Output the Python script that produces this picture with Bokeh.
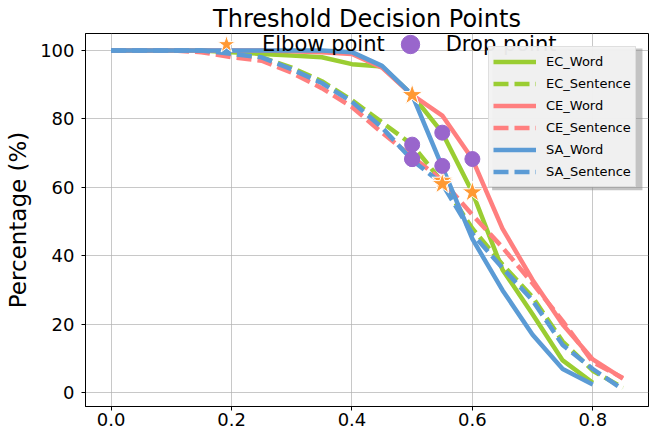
from bokeh.plotting import figure
from bokeh.models import Legend, LegendItem, BoxAnnotation, FixedTicker, Range1d
from bokeh.embed import file_html
from bokeh.resources import INLINE

# ---- data ----
thresholds = [0.0, 0.05, 0.1, 0.15, 0.2, 0.25, 0.3, 0.35, 0.4, 0.45,
              0.5, 0.55, 0.6, 0.65, 0.7, 0.75, 0.8, 0.85]

ec_word = [100, 100, 100, 100, 99.5, 99, 98.5, 98, 96, 95.3, 87, 76, 58.6, 36, 23, 9.5, 3]
ec_sentence = [100, 100, 100, 100, 99, 98, 95, 91, 85.5, 79, 72.5, 61.5, 48, 37.5, 28, 15, 6.5, 1.5]
ce_word = [100, 100, 100, 100, 100, 100, 99.8, 99.5, 99, 95, 87, 81, 68.3, 48, 33, 20, 9.8, 4.2]
ce_sentence = [100, 100, 100, 99.5, 98, 97, 93.5, 89, 83.5, 76, 69, 62, 52, 42.5, 32, 21, 9, 4.4]
sa_word = [100, 100, 100, 100, 100, 100, 100, 100, 99.5, 95.5, 87, 66, 45, 30, 17, 7, 2.5]
sa_sentence = [100, 100, 100, 100, 99, 98, 94.5, 90.5, 85, 77.5, 68, 61, 46.5, 36.5, 27, 14, 7, 1.0]

elbow_x = [0.6, 0.5, 0.5, 0.55, 0.55, 0.55]
elbow_y = [58.6, 87, 87, 61.5, 62, 61]
drop_x = [0.55, 0.6, 0.55, 0.5, 0.5, 0.5]
drop_y = [76, 68.3, 66.3, 72.5, 68.3, 68.3]

x_ticks = [0.0, 0.2, 0.4, 0.6, 0.8]
y_ticks = [0, 20, 40, 60, 80, 100]

GREEN = "#9acd32"
RED = "#ff7f7f"
BLUE = "#5b9bd5"
FONT = "DejaVu Sans"

p = figure(width=655, height=431,
           x_range=Range1d(-0.0425, 0.8925), y_range=Range1d(-3.95, 104.95),
           output_backend="svg", toolbar_location=None,
           min_border_left=85, min_border_right=7, min_border_top=33, min_border_bottom=25)

p.title.text = "Threshold Decision Points"
p.title.align = "center"
p.title.text_font_size = "24px"
p.title.text_font_style = "normal"
p.title.text_font = FONT
p.title.text_color = "black"
p.title.standoff = 2

p.outline_line_color = "black"
p.outline_line_width = 1
p.background_fill_color = "white"
for g in (p.xgrid, p.ygrid):
    g.grid_line_color = "#b0b0b0"
    g.grid_line_alpha = 0.7
    g.grid_line_width = 1

p.xaxis.ticker = FixedTicker(ticks=x_ticks)
p.yaxis.ticker = FixedTicker(ticks=y_ticks)
p.xaxis.major_label_overrides = {t: f"{t:.1f}" for t in x_ticks}
for ax in (p.xaxis, p.yaxis):
    ax.axis_line_color = "black"
    ax.major_tick_line_color = "black"
    ax.major_tick_out = 4
    ax.major_tick_in = 0
    ax.minor_tick_line_color = None
    ax.major_label_text_font_size = "18px"
    ax.major_label_text_font = FONT
    ax.major_label_text_color = "black"
p.xaxis.major_label_standoff = 2
p.yaxis.major_label_standoff = 7
p.yaxis.axis_label = "Percentage (%)"
p.yaxis.axis_label_text_font_size = "23px"
p.yaxis.axis_label_text_font_style = "normal"
p.yaxis.axis_label_text_font = FONT
p.yaxis.axis_label_text_color = "black"
p.yaxis.axis_label_standoff = 6

LW = 4.5
DASH = "15 6"
r_ecw = p.line(thresholds[:len(ec_word)], ec_word, line_color=GREEN, line_width=LW)
r_ecs = p.line(thresholds[:len(ec_sentence)], ec_sentence, line_color=GREEN, line_width=LW, line_dash=DASH)
r_cew = p.line(thresholds[:len(ce_word)], ce_word, line_color=RED, line_width=LW)
r_ces = p.line(thresholds[:len(ce_sentence)], ce_sentence, line_color=RED, line_width=LW, line_dash=DASH)
r_saw = p.line(thresholds[:len(sa_word)], sa_word, line_color=BLUE, line_width=LW)
r_sas = p.line(thresholds[:len(sa_sentence)], sa_sentence, line_color=BLUE, line_width=LW, line_dash=DASH)

r_elbow = p.scatter(elbow_x, elbow_y, marker="star", size=22, fill_color="#ff9933",
                    line_color="white", line_width=1)
r_drop = p.scatter(drop_x, drop_y, marker="circle", size=15, fill_color="#9966cc",
                   line_color="#9966cc", line_width=1)

# top legend (markers)
leg1 = Legend(items=[LegendItem(label="Elbow point", renderers=[r_elbow]),
                     LegendItem(label="Drop point", renderers=[r_drop])],
              orientation="horizontal", location=(116, 339),
              glyph_width=50, glyph_height=46, label_height=46, label_standoff=11, spacing=-5,
              padding=0, margin=0, border_line_alpha=0, background_fill_alpha=0,
              label_text_font_size="21px", label_text_font=FONT, label_text_color="black")
p.add_layout(leg1)

# shadow for line legend
shadow = BoxAnnotation(left=0.6328, right=0.8824, top=100.6, bottom=59.2,
                       fill_color="#888888", fill_alpha=0.5, line_alpha=0)
p.add_layout(shadow)

leg2 = Legend(items=[LegendItem(label="EC_Word", renderers=[r_ecw]),
                     LegendItem(label="EC_Sentence", renderers=[r_ecs]),
                     LegendItem(label="CE_Word", renderers=[r_cew]),
                     LegendItem(label="CE_Sentence", renderers=[r_ces]),
                     LegendItem(label="SA_Word", renderers=[r_saw]),
                     LegendItem(label="SA_Sentence", renderers=[r_sas])],
              location=(403, 219), glyph_width=43, glyph_height=21, label_height=21,
              label_standoff=10, spacing=1, padding=4, margin=0,
              border_line_color="#cccccc", border_line_width=1,
              background_fill_color="#f2f2f2", background_fill_alpha=0.95,
              label_text_font_size="13px", label_text_font=FONT, label_text_color="black")
p.add_layout(leg2)

open("out.html", "w").write(file_html(p, INLINE))
